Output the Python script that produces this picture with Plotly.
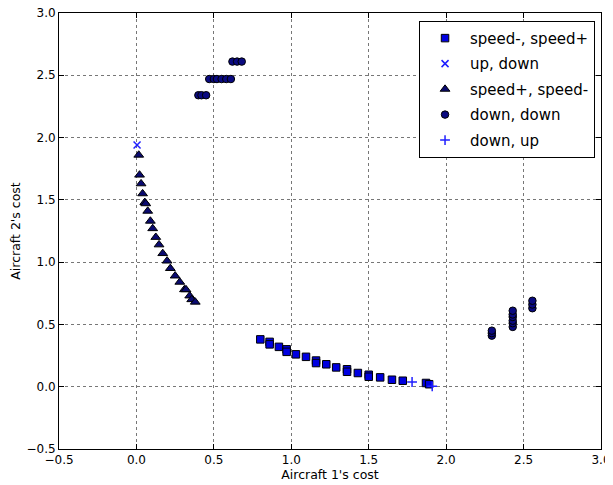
import plotly.graph_objects as go

# speed-, speed+ (squares)
sq_x = [0.80, 0.86, 0.86, 0.92, 0.97, 0.97, 1.03, 1.095, 1.16, 1.16, 1.226, 1.29, 1.36, 1.36, 1.43, 1.50, 1.50, 1.574, 1.65, 1.72, 1.87, 1.89]
sq_y = [0.38, 0.36, 0.34, 0.32, 0.30, 0.28, 0.26, 0.24, 0.21, 0.19, 0.18, 0.155, 0.14, 0.12, 0.11, 0.096, 0.08, 0.075, 0.056, 0.048, 0.03, 0.02]

# up, down (x marks)
ud_x = [0.004]
ud_y = [1.94]

# speed+, speed- (triangles)
tr_x = [0.015, 0.02, 0.03, 0.04, 0.054, 0.06, 0.073, 0.09, 0.105, 0.125, 0.146, 0.17, 0.198, 0.219, 0.25, 0.28, 0.31, 0.32, 0.344, 0.357, 0.38]
tr_y = [1.86, 1.70, 1.63, 1.55, 1.48, 1.47, 1.41, 1.33, 1.27, 1.20, 1.14, 1.07, 1.01, 0.95, 0.89, 0.84, 0.78, 0.78, 0.73, 0.70, 0.68]

# down, down (circles)
dd_x = [0.40, 0.42, 0.45, 0.47, 0.50, 0.52, 0.55, 0.58, 0.61, 0.62, 0.65, 0.68,
        2.295, 2.295, 2.295, 2.43, 2.43, 2.43, 2.43, 2.43, 2.43, 2.557, 2.557, 2.557]
dd_y = [2.34, 2.34, 2.34, 2.47, 2.47, 2.47, 2.47, 2.47, 2.47, 2.61, 2.61, 2.61,
        0.41, 0.43, 0.45, 0.48, 0.51, 0.53, 0.56, 0.58, 0.61, 0.63, 0.66, 0.69]

# down, up (plus marks)
du_x = [1.78, 1.91]
du_y = [0.038, 0.003]

x_ticks = [-0.5, 0.0, 0.5, 1.0, 1.5, 2.0, 2.5, 3.0]
y_ticks = [-0.5, 0.0, 0.5, 1.0, 1.5, 2.0, 2.5, 3.0]

fig = go.Figure()
fig.add_trace(go.Scatter(x=sq_x, y=sq_y, mode="markers", name="speed-, speed+", legendgroup="a",
                         marker=dict(symbol="square", size=7.5, color="#0000e0",
                                     line=dict(color="#000000", width=1))))
fig.add_trace(go.Scatter(x=ud_x, y=ud_y, mode="markers", name="up, down", legendgroup="b",
                         marker=dict(symbol="x-thin", size=7, color="#2020ff",
                                     line=dict(color="#2020ff", width=1.5))))
fig.add_trace(go.Scatter(x=tr_x, y=tr_y, mode="markers", name="speed+, speed-", legendgroup="c",
                         marker=dict(symbol="triangle-up", size=8.5, color="#0a0a70",
                                     line=dict(color="#000000", width=1))))
fig.add_trace(go.Scatter(x=dd_x, y=dd_y, mode="markers", name="down, down", legendgroup="d",
                         marker=dict(symbol="circle", size=7.5, color="#0a0a80",
                                     line=dict(color="#000000", width=1))))
fig.add_trace(go.Scatter(x=du_x, y=du_y, mode="markers", name="down, up", legendgroup="e",
                         marker=dict(symbol="cross-thin", size=7, color="#2020ff",
                                     line=dict(color="#2020ff", width=1.5))))

axis_common = dict(
    showline=True, linecolor="black", linewidth=1, mirror="ticks",
    ticks="inside", ticklen=5, tickcolor="black",
    showgrid=True, gridcolor="#777777", griddash="dot", gridwidth=1,
    zeroline=False, automargin=False, ticklabeloverflow="allow",
    tickfont=dict(family="DejaVu Sans", size=12, color="black"),
    title_font=dict(family="DejaVu Sans", size=12.5, color="black"),
)

fig.update_xaxes(range=[-0.5, 3.0], tickvals=x_ticks, ticktext=[f"{v:.1f}".replace("-", "\u2212") for v in x_ticks],
                 title=dict(text="Aircraft 1's cost", standoff=2), **axis_common)
fig.update_yaxes(range=[-0.5, 3.0], tickvals=y_ticks, ticktext=[f"{v:.1f}".replace("-", "\u2212") for v in y_ticks],
                 title=dict(text="Aircraft 2's cost", standoff=6), **axis_common)

# page body has an 8px default margin, so the figure is shrunk by 8px
fig.update_layout(
    width=605, height=477,
    margin=dict(l=51, r=12, t=5, b=36),
    plot_bgcolor="white", paper_bgcolor="white",
    font=dict(family="DejaVu Sans", color="black"),
    legend=dict(x=0.989, y=0.982, xanchor="right", yanchor="top",
                bgcolor="white", bordercolor="black", borderwidth=1,
                font=dict(family="DejaVu Sans", size=15, color="black"),
                tracegroupgap=3, itemwidth=40),
    showlegend=True,
)

fig.write_html("out.html")
